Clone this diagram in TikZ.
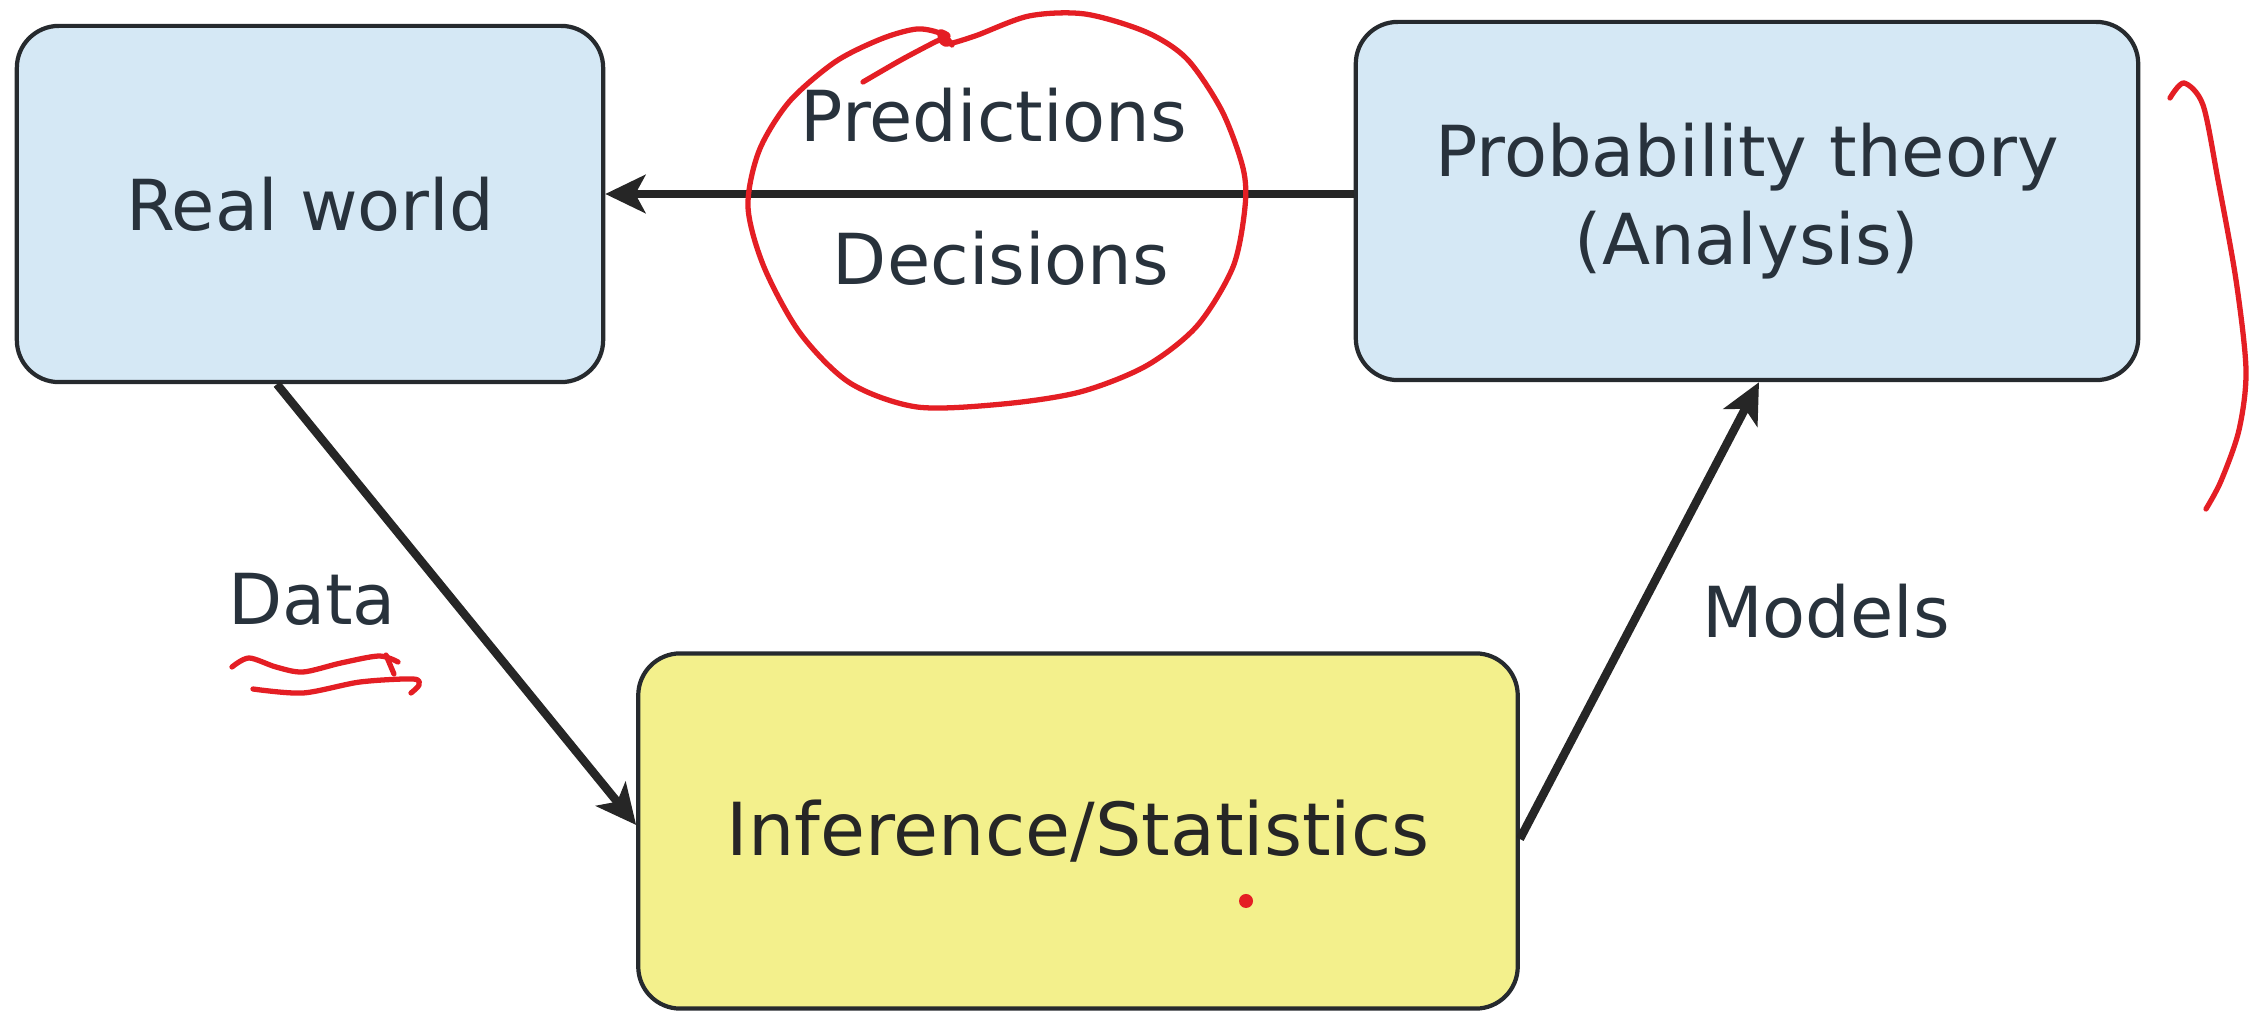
\documentclass[tikz,border=0pt]{standalone}
\usepackage{fontspec}
\setmainfont{DejaVu Sans}
\usetikzlibrary{arrows.meta}
\definecolor{bleuboite}{RGB}{213,232,245}
\definecolor{jauneboite}{RGB}{243,240,140}
\definecolor{bord}{RGB}{38,42,46}
\definecolor{encre}{RGB}{40,50,60}
\definecolor{rouge}{RGB}{228,30,36}
\begin{document}
\begin{tikzpicture}[x=0.01cm,y=-0.01cm]
% Styles
\tikzstyle{boite}=[draw=bord,line width=1.2pt,rounded corners=0.42cm,inner sep=0pt,align=center,text=encre,font=\fontsize{20}{25}\selectfont]
\tikzstyle{etiquette}=[anchor=base,inner sep=0pt,text=encre,font=\fontsize{20}{25}\selectfont]
\tikzstyle{fleche}=[-{Stealth[length=0.4cm,width=0.38cm,inset=0.1cm]},line width=2.4pt,draw=black!85]
\tikzstyle{annot}=[rouge,line width=1.5pt,line cap=round,line join=round]
% Cadre
\useasboundingbox (0,0) rectangle (2250,1013);
% Boites
\node[boite,fill=bleuboite,minimum width=5.86cm,minimum height=3.56cm] (monde) at (310,204) {Real world};
\node[boite,fill=bleuboite,minimum width=7.82cm,minimum height=3.58cm] (proba) at (1747,201) {Probability theory\\(Analysis)};
\node[boite,fill=jauneboite,minimum width=8.79cm,minimum height=3.55cm,text=black!85,font=\fontsize{20.8}{25}\selectfont] (infer) at (1078,831) {Inference/Statistics};
% Fleches
\draw[fleche] ([yshift=0.07cm]proba.west) -- ([yshift=0.07cm]proba.west -| monde.east);
\draw[fleche] ([xshift=-0.33cm]monde.south) -- ([yshift=0.06cm]infer.west);
\draw[fleche] ([yshift=-0.08cm]infer.east) -- ([xshift=0.12cm]proba.south);
% Etiquettes
\node[etiquette] (predictions) at (994,142) {Predictions};
\node[etiquette] (decisions) at (1001,285) {Decisions};
\node[etiquette] (donnees) at (312,625) {Data};
\node[etiquette] (modeles) at (1826,638) {Models};
% Annotations a la main
\draw[annot] plot[smooth] coordinates {(863,82) (901,60) (935,42) (948,36) (940,32) (945,44) (975,36) (1029,16) (1085,14) (1146,32) (1187,59) (1222,111) (1243,168) (1245,207) (1233,267) (1197,326) (1146,366) (1080,392) (1003,404) (917,407) (850,383) (800,333) (764,267) (748,207) (759,151) (789,102) (835,62) (881,39) (917,29) (942,34) (952,45)};
\draw[annot] plot[smooth] coordinates {(232,667) (249,658) (276,667) (303,672) (341,663) (379,656) (398,662)};
\draw[annot] plot[smooth] coordinates {(253,689) (303,693) (360,682) (413,679) (419,685) (411,693)};
\draw[annot] (386,655) -- (394,674);
\draw[annot] plot[smooth] coordinates {(2170,98) (2184,83) (2203,105) (2218,180) (2236,280) (2246,370) (2239,430) (2221,481) (2206,509)};
\fill[rouge] (1246,901) circle (0.07cm);
\end{tikzpicture}
\end{document}
